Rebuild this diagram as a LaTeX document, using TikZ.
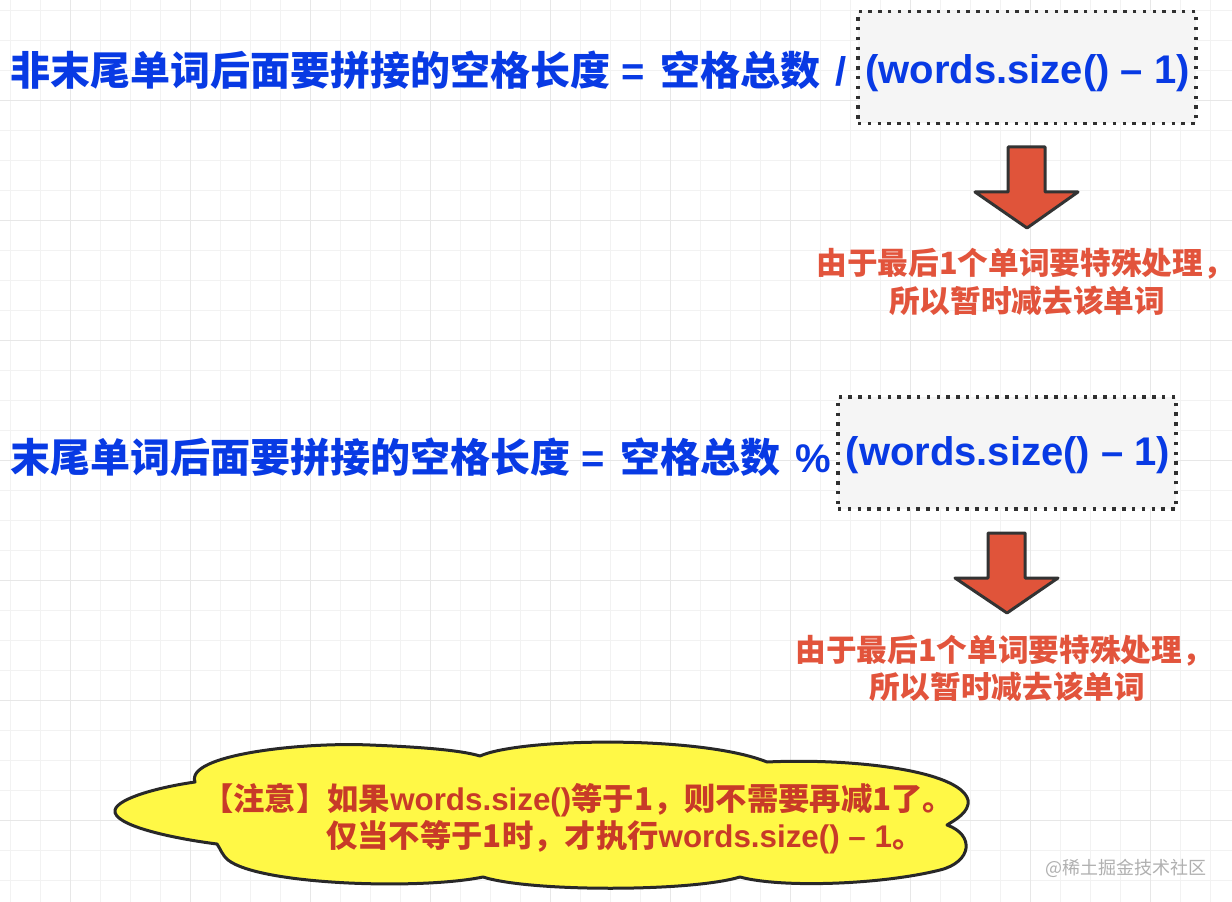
\documentclass[tikz,border=0pt]{standalone}
\usepackage{fontspec}
\setmainfont{Noto Sans CJK SC}
\newfontfamily\latf{Liberation Sans}
\newcommand\lt[1]{{\latf\bfseries #1}}
\definecolor{tblue}{RGB}{8,58,228}
\definecolor{tred}{RGB}{226,84,60}
\definecolor{cred}{RGB}{200,58,40}
\definecolor{arrfill}{RGB}{224,84,58}
\definecolor{arrline}{RGB}{51,51,51}
\definecolor{boxfill}{RGB}{245,245,245}
\definecolor{dotc}{RGB}{48,48,48}
\definecolor{cyellow}{RGB}{255,248,70}
\definecolor{cline}{RGB}{40,40,40}
\definecolor{gminor}{RGB}{242,242,242}
\definecolor{gmajor}{RGB}{231,231,231}
\definecolor{wmark}{RGB}{176,176,176}
\begin{document}
\begin{tikzpicture}[x=0.75pt,y=-0.75pt,
  gridminor/.style={draw=gminor,line width=0.9pt},
  gridmajor/.style={draw=gmajor,line width=1.1pt},
  title/.style={anchor=base west,inner sep=0pt,text=tblue,font=\fontsize{30pt}{36pt}\selectfont\bfseries},
  boxtxt/.style={anchor=base,inner sep=0pt,text=tblue,font=\fontsize{30pt}{36pt}\selectfont\latf\bfseries},
  dotbox/.style={draw=dotc,fill=boxfill,line width=2.5pt,dash pattern=on 2.5pt off 4.85pt,minimum width=253.5pt,minimum height=84pt,inner sep=0pt},
  blockarrow/.style={fill=arrfill,draw=arrline,line width=2.25pt,line join=round},
  notetxt/.style={anchor=base,inner sep=0pt,text=tred,font=\fontsize{23pt}{28pt}\selectfont\bfseries},
  cloudtxt/.style={anchor=base west,inner sep=0pt,text=cred,font=\fontsize{23.5pt}{28pt}\selectfont\bfseries},
  cloudshape/.style={fill=cyellow,draw=cline,line width=2.25pt,line join=round},
  wm/.style={anchor=west,inner sep=0pt,text=wmark,font=\fontsize{13.5pt}{16pt}\selectfont}
]
% background and grid
\fill[white] (0,0) rectangle (1232,902);
\useasboundingbox (0,0) rectangle (1232,902);
\foreach \i in {0,...,40} {\draw[gridminor] ({10.7+30*\i},0) -- ({10.7+30*\i},902);}
\foreach \i in {0,...,29} {\draw[gridminor] (0,{10.7+30*\i}) -- (1232,{10.7+30*\i});}
\foreach \i in {0,...,9} {\draw[gridmajor] ({70.7+120*\i},0) -- ({70.7+120*\i},902);}
\foreach \i in {0,...,6} {\draw[gridmajor] (0,{100.7+120*\i}) -- (1232,{100.7+120*\i});}

% row 1
\node[dotbox] (b1) at (1027,67.5) {};
\node[title] (t1) at (10,86) {非末尾单词后面要拼接的空格长度\lt{\ =\ }\hspace{3.5pt}空格总数\lt{\ }\hspace{3pt}\lt{/}};
\node[boxtxt] (t1b) at (1027.5,84) {(words.size() – 1)};
\draw[blockarrow] (1008,147) -- (1045,147) -- (1045,192) -- (1078,192) -- (1027,228) -- (975,192) -- (1008,192) -- cycle;
\node[notetxt] (n1a) at (1025,275) {由于最后1个单词要特殊处理，};
\node[notetxt] (n1b) at (1027,313) {所以暂时减去该单词};

% row 2
\node[dotbox] (b2) at (1007,453) {};
\node[title] (t2) at (10,472) {末尾单词后面要拼接的空格长度\lt{\ =\ }\hspace{3.5pt}空格总数\lt{\ }\hspace{3pt}\lt{\%}};
\node[boxtxt] (t2b) at (1008,465) {(words.size() – 1)};
\draw[blockarrow] (988,533) -- (1025,533) -- (1025,578) -- (1058,578) -- (1007,613) -- (955,578) -- (988,578) -- cycle;
\node[notetxt] (n2a) at (1004,661) {由于最后1个单词要特殊处理，};
\node[notetxt] (n2b) at (1007,698) {所以暂时减去该单词};

% cloud
\draw[cloudshape] (115,810)
  .. controls (118,798) and (160,787) .. (195,782)
  .. controls (185,755) and (300,742) .. (370,745)
  .. controls (420,747) and (460,750) .. (480,756)
  .. controls (520,738) and (700,735) .. (767,762)
  .. controls (850,758) and (960,770) .. (968,800)
  .. controls (970,812) and (955,820) .. (947,825)
  .. controls (975,835) and (972,862) .. (940,870)
  .. controls (880,885) and (780,888) .. (740,877)
  .. controls (690,892) and (530,892) .. (483,877)
  .. controls (420,890) and (260,885) .. (228,860)
  .. controls (222,855) and (220,848) .. (217,844)
  .. controls (170,838) and (112,825) .. (115,810) -- cycle;
\node[cloudtxt] (c1) at (202,810) {【注意】如果\lt{words.size()}等于1，则不需要再减1了。};
\node[cloudtxt] (c2) at (326,847) {仅当不等于1时，才执行\lt{words.size() – 1}。};

% watermark
\node[wm] (w) at (1045,868) {@稀土掘金技术社区};
\end{tikzpicture}
\end{document}
